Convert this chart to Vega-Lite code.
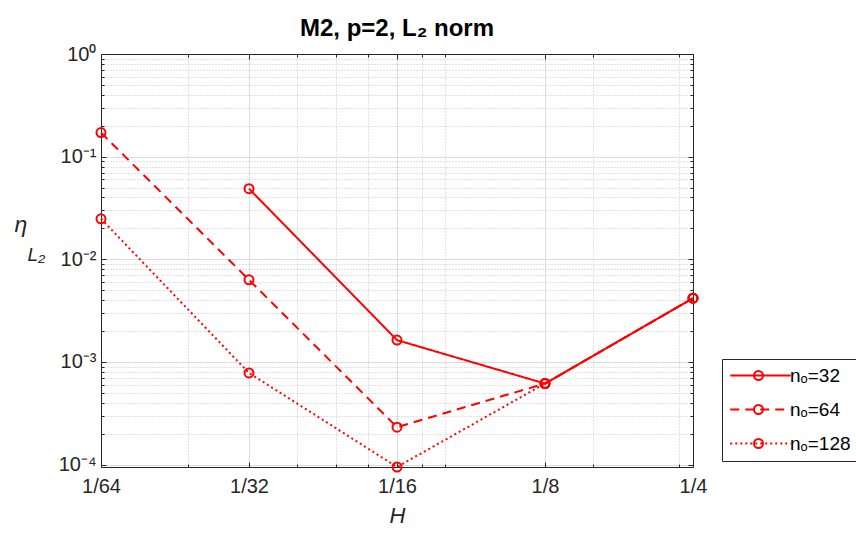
{
  "$schema": "https://vega.github.io/schema/vega-lite/v6.json",
  "width": 592,
  "height": 413,
  "autosize": {"type": "none"},
  "padding": {"left": 101, "top": 54, "right": 163, "bottom": 67},
  "background": "white",
  "title": {"text": "M2, p=2, L₂ norm", "font": "Liberation Sans", "fontSize": 24, "fontWeight": "bold", "color": "#000000", "anchor": "middle", "offset": 3},
  "data": {"values": [
    {"H": 0.03125, "eta": 0.0487, "no": 32, "series": "nₒ=32"},
    {"H": 0.0625, "eta": 0.00163, "no": 32, "series": "nₒ=32"},
    {"H": 0.125, "eta": 0.000615, "no": 32, "series": "nₒ=32"},
    {"H": 0.25, "eta": 0.00418, "no": 32, "series": "nₒ=32"},
    {"H": 0.015625, "eta": 0.1714, "no": 64, "series": "nₒ=64"},
    {"H": 0.03125, "eta": 0.0063, "no": 64, "series": "nₒ=64"},
    {"H": 0.0625, "eta": 0.000231, "no": 64, "series": "nₒ=64"},
    {"H": 0.125, "eta": 0.000615, "no": 64, "series": "nₒ=64"},
    {"H": 0.25, "eta": 0.00418, "no": 64, "series": "nₒ=64"},
    {"H": 0.015625, "eta": 0.0248, "no": 128, "series": "nₒ=128"},
    {"H": 0.03125, "eta": 0.00078, "no": 128, "series": "nₒ=128"},
    {"H": 0.0625, "eta": 0.0000946, "no": 128, "series": "nₒ=128"},
    {"H": 0.125, "eta": 0.000615, "no": 128, "series": "nₒ=128"},
    {"H": 0.25, "eta": 0.00418, "no": 128, "series": "nₒ=128"}
  ]},
  "layer": [
    {
      "mark": {"type": "point", "opacity": 0},
      "encoding": {
        "x": {"field": "H", "type": "quantitative", "scale": {"type": "log", "base": 2, "domain": [0.015625, 0.25], "nice": false},
          "axis": {"orient": "bottom", "values": [0.0234375, 0.0390625, 0.046875, 0.0546875, 0.0703125, 0.078125, 0.15625, 0.234375], "grid": true, "gridDash": [1, 2], "gridColor": "#c4c4c4", "labels": false, "domain": false, "ticks": true, "tickSize": -3, "tickColor": "#262626", "title": null}},
        "y": {"field": "eta", "type": "quantitative", "scale": {"type": "log", "domain": [0.0000946, 1], "nice": false},
          "axis": {"orient": "left", "values": [0.0002, 0.0003, 0.0004, 0.0005, 0.0006, 0.0007, 0.0008, 0.0009, 0.002, 0.003, 0.004, 0.005, 0.006, 0.007, 0.008, 0.009, 0.02, 0.03, 0.04, 0.05, 0.06, 0.07, 0.08, 0.09, 0.2, 0.3, 0.4, 0.5, 0.6, 0.7, 0.8, 0.9], "grid": true, "gridDash": [1, 2], "gridColor": "#c4c4c4", "labels": false, "domain": false, "ticks": true, "tickSize": -3, "tickColor": "#262626",
            "title": "L₂", "titleAngle": 0, "titleAlign": "left", "titleBaseline": "alphabetic", "titleX": -74, "titleY": 206, "titleFont": "Liberation Sans", "titleFontSize": 19, "titleFontStyle": "italic", "titleFontWeight": "normal", "titleColor": "#262626"}}
      }
    },
    {
      "mark": {"type": "point", "opacity": 0},
      "encoding": {
        "x": {"field": "H", "type": "quantitative", "scale": {"type": "log", "base": 2, "domain": [0.015625, 0.25], "nice": false},
          "axis": {"orient": "top", "values": [0.0234375, 0.0390625, 0.046875, 0.0546875, 0.0703125, 0.078125, 0.15625, 0.234375], "grid": false, "labels": false, "domain": false, "ticks": true, "tickSize": -3, "tickColor": "#262626", "title": null}},
        "y": {"field": "eta", "type": "quantitative", "scale": {"type": "log", "domain": [0.0000946, 1], "nice": false},
          "axis": {"orient": "right", "values": [0.0002, 0.0003, 0.0004, 0.0005, 0.0006, 0.0007, 0.0008, 0.0009, 0.002, 0.003, 0.004, 0.005, 0.006, 0.007, 0.008, 0.009, 0.02, 0.03, 0.04, 0.05, 0.06, 0.07, 0.08, 0.09, 0.2, 0.3, 0.4, 0.5, 0.6, 0.7, 0.8, 0.9], "grid": false, "labels": false, "domain": false, "ticks": true, "tickSize": -3, "tickColor": "#262626", "title": null}}
      }
    },
    {
      "mark": {"type": "line", "color": "#ff0000", "strokeWidth": 2},
      "encoding": {
        "x": {"field": "H", "type": "quantitative", "scale": {"type": "log", "base": 2, "domain": [0.015625, 0.25], "nice": false},
          "axis": {"orient": "bottom", "values": [0.015625, 0.03125, 0.0625, 0.125, 0.25], "labelExpr": "'1/' + round(1/datum.value)", "labelFlush": false, "labelOverlap": false, "grid": true, "gridColor": "#dcdcdc", "gridWidth": 1, "domain": true, "domainColor": "#262626", "domainWidth": 1, "ticks": true, "tickSize": -5, "tickColor": "#262626", "labelPadding": 14, "labelFont": "Liberation Sans", "labelFontSize": 20, "labelColor": "#262626", "title": "H", "titleFont": "Liberation Sans", "titleFontSize": 22, "titleFontStyle": "italic", "titleFontWeight": "normal", "titleColor": "#262626", "titlePadding": 9}},
        "y": {"field": "eta", "type": "quantitative", "scale": {"type": "log", "domain": [0.0000946, 1], "nice": false},
          "axis": {"orient": "left", "values": [0.0001, 0.001, 0.01, 0.1, 1], "labelExpr": "datum.value > 0.5 ? '10⁰' : datum.value > 0.05 ? '10⁻¹' : datum.value > 0.005 ? '10⁻²' : datum.value > 0.0005 ? '10⁻³' : '10⁻⁴'", "labelFlush": false, "labelOverlap": false, "grid": true, "gridColor": "#dcdcdc", "gridWidth": 1, "domain": true, "domainColor": "#262626", "domainWidth": 1, "ticks": true, "tickSize": -5, "tickColor": "#262626", "labelPadding": 10, "labelFont": "Liberation Sans", "labelFontSize": 20, "labelColor": "#262626",
            "title": "η", "titleAngle": 0, "titleAlign": "left", "titleBaseline": "alphabetic", "titleX": -87, "titleY": 177, "titleFont": "Liberation Sans", "titleFontSize": 23, "titleFontStyle": "italic", "titleFontWeight": "normal", "titleColor": "#262626"}},
        "strokeDash": {"field": "no", "type": "ordinal", "scale": {"domain": [32, 64, 128], "range": [[1, 0], [9, 6], [2, 3]]},
          "legend": {"title": null, "orient": "none", "legendX": 621, "legendY": 305, "symbolType": "M -5.5 0 L 5.5 0", "symbolSize": 121, "symbolOffset": 22, "symbolStrokeWidth": 2, "symbolStrokeColor": "#ff0000", "labelExpr": "'nₒ=' + datum.label", "labelFont": "Liberation Sans", "labelFontSize": 19, "labelColor": "#000000", "labelOffset": 20, "padding": 7, "rowPadding": 14, "strokeColor": "#262626", "fillColor": "white"}}
      }
    },
    {
      "mark": {"type": "point", "shape": "circle", "filled": false, "color": "#ff0000", "size": 81, "strokeWidth": 2, "opacity": 1},
      "encoding": {
        "x": {"field": "H", "type": "quantitative", "scale": {"type": "log", "base": 2, "domain": [0.015625, 0.25], "nice": false},
          "axis": {"orient": "top", "values": [0.015625, 0.03125, 0.0625, 0.125, 0.25], "grid": false, "labels": false, "domain": true, "domainColor": "#262626", "ticks": true, "tickSize": -5, "tickColor": "#262626", "title": null}},
        "y": {"field": "eta", "type": "quantitative", "scale": {"type": "log", "domain": [0.0000946, 1], "nice": false},
          "axis": {"orient": "right", "values": [0.0001, 0.001, 0.01, 0.1, 1], "grid": false, "labels": false, "domain": true, "domainColor": "#262626", "ticks": true, "tickSize": -5, "tickColor": "#262626", "title": null}},
        "shape": {"field": "series", "type": "nominal", "scale": {"domain": ["nₒ=32", "nₒ=64", "nₒ=128"], "range": ["circle", "circle", "circle"]},
          "legend": {"title": null, "orient": "none", "legendX": 641, "legendY": 305, "symbolType": "circle", "symbolSize": 81, "symbolStrokeWidth": 2, "symbolStrokeColor": "#ff0000", "symbolFillColor": "transparent", "labelExpr": "' '", "labelOpacity": 0, "labelFont": "Liberation Sans", "labelFontSize": 19, "padding": 7, "rowPadding": 14, "zindex": 1}}
      }
    }
  ],
  "resolve": {"axis": {"x": "independent", "y": "independent"}},
  "config": {"view": {"stroke": null}}
}
